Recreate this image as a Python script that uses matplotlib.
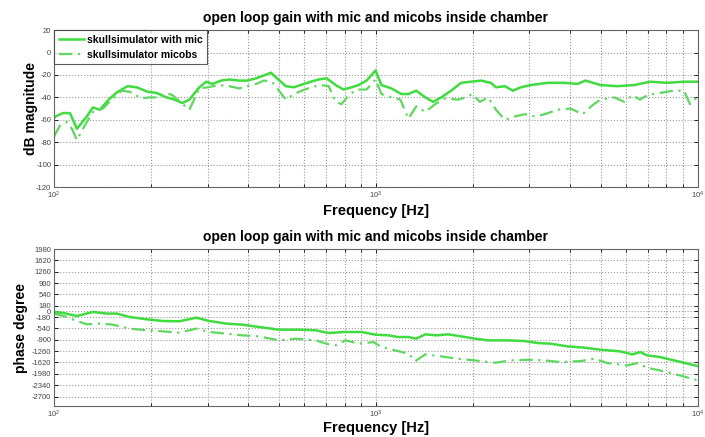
import numpy as np
import matplotlib
matplotlib.use("Agg")
import matplotlib.pyplot as plt
from matplotlib.ticker import LogLocator, NullFormatter

plt.rcParams["font.family"] = ["Liberation Sans", "DejaVu Sans"]
plt.rcParams["axes.unicode_minus"] = False

# x positions in pixels of the top axes are converted to Hz
def px_to_hz(px):
    return 10 ** (2 + (np.asarray(px, dtype=float) - 54) / 323.35)

# magnitude, solid line (skullsimulator with mic)
mag_mic_px = [54, 58, 63, 70, 77, 87, 93, 100, 110, 118, 128, 137, 148, 157, 167, 175,
              183, 190, 200, 207, 213, 222, 230, 240, 248, 257, 272, 278, 287, 295, 305,
              312, 320, 328, 337, 345, 353, 360, 368, 377, 383, 393, 403, 410, 418, 427,
              435, 443, 453, 463, 473, 483, 493, 498, 507, 515, 523, 533, 550, 567, 580,
              588, 603, 620, 637, 653, 670, 687, 701]
mag_mic_db = [-58, -56, -54, -54, -68, -57, -49, -51, -41, -35, -30, -31, -35, -36, -40, -42,
              -45, -42, -31, -26, -28, -25, -24, -25, -25, -23, -18, -23, -30, -31, -28,
              -26, -24, -23, -29, -33, -31, -29, -25, -16, -29, -32, -37, -37, -34, -40,
              -44, -40, -34, -27, -26, -25, -27, -31, -30, -34, -31, -29, -27, -27, -28,
              -25, -29, -30, -29, -26, -27, -26, -26]

# magnitude, dash-dot line (skullsimulator micobs)
mag_obs_px = [54, 60, 67, 72, 77, 85, 93, 103, 112, 122, 130, 142, 150, 160, 167, 173,
              182, 190, 200, 208, 220, 230, 240, 248, 257, 265, 273, 280, 287, 295, 303,
              312, 322, 330, 337, 343, 350, 358, 368, 377, 383, 393, 402, 410, 418, 427,
              437, 447, 460, 468, 474, 482, 490, 498, 507, 517, 527, 537, 547, 560, 573,
              585, 595, 603, 617, 627, 635, 643, 650, 663, 677, 687, 693, 700]
mag_obs_db = [-75, -65, -62, -68, -78, -65, -53, -50, -42, -34, -35, -41, -40, -40, -36, -38,
              -45, -51, -32, -31, -29, -30, -32, -30, -28, -25, -26, -34, -42, -37, -34,
              -31, -29, -30, -44, -46, -38, -33, -33, -24, -37, -40, -42, -59, -48, -53,
              -46, -41, -42, -40, -37, -44, -40, -51, -60, -57, -55, -57, -55, -51, -50,
              -55, -47, -42, -40, -44, -38, -42, -38, -36, -34, -34, -46, -40]

# phase, solid line
ph_mic_px = [54, 63, 77, 93, 107, 117, 130, 147, 163, 180, 197, 210, 227, 243, 260, 280,
             300, 317, 330, 345, 363, 377, 390, 400, 410, 418, 427, 438, 450, 463, 477,
             490, 510, 527, 540, 553, 570, 587, 603, 623, 635, 643, 650, 663, 680, 701]
ph_mic_deg = [-16, -47, -143, -16, -67, -67, -175, -248, -302, -312, -196, -302, -386, -418,
              -493, -578, -578, -599, -684, -652, -652, -737, -758, -812, -812, -864, -726,
              -758, -726, -790, -864, -917, -917, -939, -1002, -1023, -1108, -1150, -1214,
              -1267, -1363, -1289, -1395, -1448, -1575, -1735]

# phase, dash-dot line
ph_obs_px = [54, 67, 77, 87, 100, 113, 130, 147, 163, 180, 197, 210, 227, 243, 260, 280,
             297, 317, 330, 337, 347, 360, 375, 383, 397, 410, 417, 427, 443, 460, 477,
             497, 513, 530, 547, 563, 583, 597, 610, 630, 640, 650, 663, 683, 701]
ph_obs_deg = [-67, -175, -302, -408, -386, -418, -545, -599, -631, -673, -545, -652, -705,
              -758, -790, -917, -864, -917, -1044, -1076, -917, -1023, -971, -1130, -1236,
              -1341, -1575, -1363, -1427, -1500, -1554, -1628, -1554, -1532, -1554, -1607,
              -1575, -1500, -1639, -1713, -1639, -1787, -1873, -2031, -2190]

mag_ticks = [20, 0, -20, -40, -60, -80, -100, -120]
phase_ticks = [1980, 1620, 1260, 900, 540, 180, 0, -180, -540, -900, -1260,
               -1620, -1980, -2340, -2700]

title = "open loop gain with mic and micobs inside chamber"
green = "#3fdc3f"
green_light = "#5ed85e"
dashdot = (0, (6, 2.5, 1, 2.5))

fig = plt.figure(figsize=(7.05, 4.37), dpi=100)
ax1 = fig.add_axes([0.0766, 0.572, 0.913, 0.359])
ax2 = fig.add_axes([0.0766, 0.071, 0.913, 0.359])

ax1.plot(px_to_hz(mag_mic_px), mag_mic_db, color=green, linewidth=1.8,
         label="skullsimulator with mic")
ax1.plot(px_to_hz(mag_obs_px), mag_obs_db, color=green_light, linewidth=1.6,
         linestyle=dashdot, label="skullsimulator micobs")
ax1.set_ylim(-120, 20)
ax1.set_yticks(mag_ticks)
ax1.set_ylabel("dB magnitude", fontsize=10, fontweight="bold")
ax1.yaxis.set_label_coords(-0.025, 0.5)
leg = ax1.legend(loc="upper left", fontsize=7.5, frameon=True, fancybox=False,
                 borderaxespad=0, handlelength=2.4, handletextpad=0.3,
                 borderpad=0.45, labelspacing=0.45)
leg.get_frame().set_edgecolor("#333333")
leg.get_frame().set_linewidth(0.8)
for t in leg.get_texts():
    t.set_fontweight("bold")

ax2.plot(px_to_hz(ph_mic_px), ph_mic_deg, color=green, linewidth=1.8)
ax2.plot(px_to_hz(ph_obs_px), ph_obs_deg, color=green_light, linewidth=1.6,
         linestyle=dashdot)
ax2.set_ylim(-3000, 1980)
ax2.set_yticks(phase_ticks)
ax2.set_ylabel("phase degree", fontsize=10, fontweight="bold")
ax2.yaxis.set_label_coords(-0.040, 0.5)

for ax, xlab_y in ((ax1, -0.105), (ax2, -0.095)):
    ax.set_xscale("log")
    ax.set_xlim(100, 10000)
    ax.xaxis.set_major_locator(LogLocator(base=10, numticks=5))
    ax.xaxis.set_minor_locator(LogLocator(base=10, subs=np.arange(2, 10), numticks=20))
    ax.xaxis.set_minor_formatter(NullFormatter())
    ax.grid(True, which="major", linestyle=":", color="#999999", linewidth=0.8)
    ax.grid(True, which="minor", axis="x", linestyle=":", color="#999999", linewidth=0.8)
    ax.tick_params(which="both", direction="in", top=True, right=True,
                   labelsize=5.5, labelcolor="#444444", length=3, width=0.6, pad=2)
    ax.tick_params(which="minor", length=2)
    ax.set_title(title, fontsize=10, fontweight="bold", pad=6)
    ax.set_xlabel("Frequency [Hz]", fontsize=10.5, fontweight="bold")
    ax.xaxis.set_label_coords(0.5, xlab_y)
    for s in ax.spines.values():
        s.set_color("#666666")
        s.set_linewidth(0.8)

fig.savefig("out.png", dpi=100)
